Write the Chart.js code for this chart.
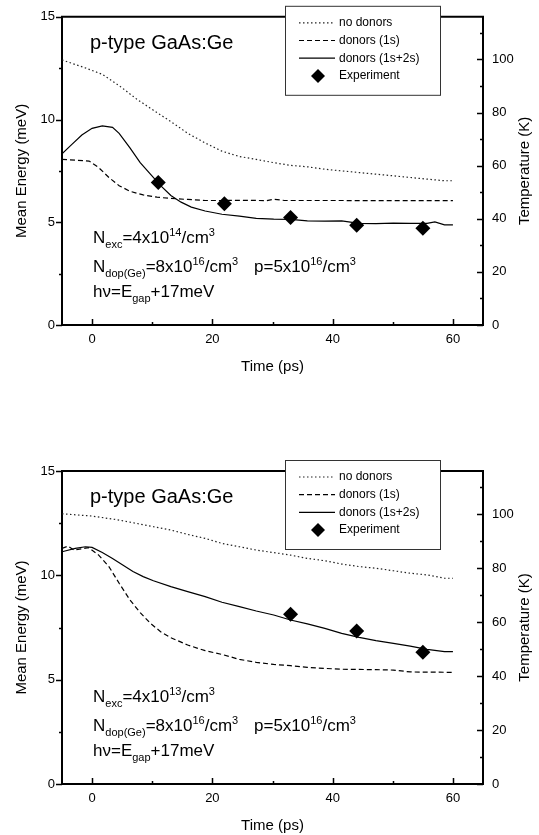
<!DOCTYPE html>
<html><head><meta charset="utf-8">
<script src="https://cdn.jsdelivr.net/npm/chart.js@4/dist/chart.umd.min.js"></script>
<style>
html,body{margin:0;padding:0;background:#fff;width:539px;height:835px;overflow:hidden}
.panel{position:absolute;left:0;width:539px}
#p1{top:0;height:400px}
#p2{top:400px;height:435px}
</style></head><body>
<div class="panel" id="p1"><canvas id="c1"></canvas></div>
<div class="panel" id="p2"><canvas id="c2"></canvas></div>
<script>
// ---------- DATA ----------
// Top panel (N_exc = 4x10^14 /cm^3)
const topNoDonorsT   = [-5,-1,1.7,4.5,7.4,10.2,13.1,15.9,18.8,21.6,24.5,27.3,30.2,33,35.8,38.7,41.5,44.4,47.2,50.1,52.9,55.7,58.6,60];
const topNoDonorsE   = [12.9,12.5,12.2,11.65,11.0,10.45,9.9,9.33,8.86,8.46,8.2,8.06,7.9,7.77,7.7,7.58,7.5,7.42,7.34,7.26,7.18,7.1,7.02,7.02];
const topDonors1sT   = [-5,-0.5,1.1,2.8,4.5,6.3,8.5,10.8,13.1,15.9,18.8,22,26,29,30.2,32,40,50,60];
const topDonors1sE   = [8.06,7.98,7.66,7.18,6.78,6.51,6.33,6.22,6.16,6.11,6.06,6.06,6.07,6.05,6.12,6.06,6.06,6.05,6.05];
const topDonors12sT  = [-5,-3.4,-1.7,0,1.7,3.4,4.5,6.3,8,9.7,11.4,13.1,14.8,16.5,18.8,21.6,24.5,27.3,30.2,33,35.8,38.7,41.5,44.4,47.2,50.1,52.9,55.7,57,58.6,60];
const topDonors12sE  = [8.33,8.78,9.25,9.57,9.69,9.62,9.33,8.62,7.9,7.34,6.78,6.30,5.98,5.74,5.55,5.39,5.30,5.19,5.15,5.14,5.07,5.06,5.07,4.95,4.93,4.96,4.95,4.95,5.02,4.87,4.87];
const topExpT        = [11,22,33,44,55];
const topExpE        = [6.94,5.9,5.23,4.85,4.71];

// Bottom panel (N_exc = 4x10^13 /cm^3)
const botNoDonorsT   = [-5,0,4.5,7.4,10.2,13.1,15.9,18.8,21.6,24.5,27.3,30.2,33,35.8,38.7,41.5,44.4,47.2,50.1,52.9,55.7,58.6,60];
const botNoDonorsE   = [12.95,12.84,12.65,12.49,12.33,12.17,11.96,11.77,11.53,11.37,11.21,11.09,10.97,10.81,10.7,10.54,10.42,10.34,10.22,10.1,10.02,9.86,9.86];
const botDonors1sT   = [-5,-4,-3,-0.6,1.1,2.8,4.5,6.3,8,9.7,11.4,13.1,15.9,18.8,21.6,24.5,27.3,30.2,33,35.8,38.7,41.5,47.2,50.1,52.9,60];
const botDonors1sE   = [11.29,11.4,11.21,11.33,10.97,10.42,9.62,8.82,8.21,7.7,7.3,7.01,6.66,6.39,6.21,5.97,5.83,5.73,5.67,5.59,5.54,5.5,5.48,5.46,5.37,5.35];
const botDonors12sT  = [-5,-2.8,-1.1,0,1.7,3.4,5.1,6.8,8.5,10.2,13.1,15.9,18.8,21.6,24.5,27.3,30.2,33,35.8,38.7,41.5,44.4,47.2,50.1,52.9,55.7,58.6,60];
const botDonors12sE  = [11.13,11.29,11.37,11.34,11.09,10.81,10.5,10.18,9.94,9.74,9.46,9.22,8.98,8.71,8.5,8.29,8.1,7.86,7.67,7.46,7.22,7.03,6.87,6.74,6.61,6.45,6.34,6.34];
const botExpT        = [33,44,55];
const botExpE        = [8.13,7.33,6.31];

// Series labels
const seriesLabels = ['no donors','donors (1s)','donors (1s+2s)','Experiment'];

// Axes / ticks
const xMin = -5, xMax = 65;
const xTickValues  = [0,10,20,30,40,50,60];
const xLabelValues = [0,20,40,60];
const eMin = 0, eMax = 15;
const eTickValues  = [0,2.5,5,7.5,10,12.5,15];
const eLabelValues = [0,5,10,15];
const kB = 0.08617; // meV/K, E = 3/2 kT
const tMax = eMax / (1.5 * kB);
const tTickValues  = [0,10,20,30,40,50,60,70,80,90,100,110];
const tLabelValues = [0,20,40,60,80,100];

const titleText = 'p-type GaAs:Ge';
const topNexc = [['N',''],['exc','sub'],['=4x10',''],['14','sup'],['/cm',''],['3','sup']];
const botNexc = [['N',''],['exc','sub'],['=4x10',''],['13','sup'],['/cm',''],['3','sup']];
const ndopLine = [['N',''],['dop(Ge)','sub'],['=8x10',''],['16','sup'],['/cm',''],['3','sup']];
const pLine = [['p=5x10',''],['16','sup'],['/cm',''],['3','sup']];
const hvLine = [['h\u03BD=E',''],['gap','sub'],['+17meV','']];

// ---------- helpers ----------
const FONT = "'Liberation Sans', Arial, Helvetica, sans-serif";
const pts = (T,E) => T.map((t,i)=>({x:t,y:E[i]}));

function drawRich(ctx, segs, x, y, size){
  const small = Math.round(size*0.65);
  for (const [t,kind] of segs){
    let dy = 0, fs = size;
    if (kind==='sub'){ fs = small; dy = size*0.28; }
    if (kind==='sup'){ fs = small; dy = -size*0.42; }
    ctx.font = fs + 'px ' + FONT;
    ctx.fillText(t, x, y+dy);
    x += ctx.measureText(t).width;
  }
}

const decorPlugin = {
  id:'decor',
  afterDraw(chart){
    const ctx = chart.ctx, a = chart.chartArea;
    const sx = chart.scales.x, sy = chart.scales.y, st = chart.scales.y2;
    const nexc = chart.options.plugins.decor.nexc;
    ctx.save();
    ctx.strokeStyle = '#000'; ctx.fillStyle = '#000';
    // top frame
    ctx.lineWidth = 2;
    ctx.beginPath(); ctx.moveTo(a.left-1, a.top); ctx.lineTo(a.right+1, a.top); ctx.stroke();
    // ticks
    ctx.lineWidth = 1.5;
    ctx.beginPath();
    for (const v of xTickValues){
      const px = Math.round(sx.getPixelForValue(v))+0.5;
      const L = xLabelValues.includes(v) ? 6 : 3;
      ctx.moveTo(px, a.bottom); ctx.lineTo(px, a.bottom - L);
    }
    for (const v of eTickValues){
      const py = Math.round(sy.getPixelForValue(v))+0.5;
      const L = eLabelValues.includes(v) ? 6 : 3;
      ctx.moveTo(a.left, py); ctx.lineTo(a.left - L, py);
    }
    for (const v of tTickValues){
      const py = Math.round(st.getPixelForValue(v))+0.5;
      const L = tLabelValues.includes(v) ? 6 : 3;
      ctx.moveTo(a.right, py); ctx.lineTo(a.right - L, py);
    }
    ctx.stroke();
    // right axis title (reads bottom to top)
    ctx.save();
    ctx.translate(525, (a.top+a.bottom)/2);
    ctx.rotate(-Math.PI/2);
    ctx.font = '15px ' + FONT; ctx.textAlign = 'center'; ctx.textBaseline = 'middle';
    ctx.fillText('Temperature (K)', 0, 0);
    ctx.restore();
    // annotations
    ctx.textAlign = 'left'; ctx.textBaseline = 'alphabetic';
    ctx.font = '20px ' + FONT;
    ctx.fillText(titleText, a.left + 28, a.top + 32);
    drawRich(ctx, nexc, a.left + 31, a.bottom - 82, 17);
    drawRich(ctx, ndopLine, a.left + 31, a.bottom - 53, 17);
    drawRich(ctx, pLine, a.left + 192, a.bottom - 53, 17);
    drawRich(ctx, hvLine, a.left + 31, a.bottom - 28, 17);
    // legend box
    const bx = 285, bw = 155, by = a.top - 11, bh = 89;
    ctx.fillStyle = '#fff'; ctx.fillRect(bx, by, bw, bh);
    ctx.strokeStyle = '#333'; ctx.lineWidth = 1;
    ctx.strokeRect(bx+0.5, by+0.5, bw, bh);
    ctx.font = '12px ' + FONT; ctx.textBaseline = 'middle';
    chart.data.datasets.forEach((ds,i)=>{
      const yy = by + 17 + i*17.7;
      ctx.strokeStyle = ds.borderColor; ctx.fillStyle = '#000';
      if (ds.showLine === false){
        ctx.beginPath();
        ctx.moveTo(318, yy-7); ctx.lineTo(325, yy); ctx.lineTo(318, yy+7); ctx.lineTo(311, yy); ctx.closePath();
        ctx.fill();
      } else {
        ctx.lineWidth = ds.borderWidth; ctx.setLineDash(ds.borderDash || []);
        ctx.beginPath(); ctx.moveTo(299, yy); ctx.lineTo(335, yy); ctx.stroke();
        ctx.setLineDash([]);
      }
      ctx.fillStyle = '#000';
      ctx.fillText(ds.label, 339, yy);
    });
    ctx.restore();
  }
};

function makeChart(canvasId, H, plotTop, plotBottom, xTitlePad, series, nexc){
  const tickFont = {family: FONT, size: 13};
  return new Chart(document.getElementById(canvasId), {
    type:'scatter',
    data:{ datasets:[
      {label:seriesLabels[0], data:pts(series[0][0],series[0][1]), showLine:true, borderColor:'#222', borderWidth:1.2, borderDash:[1.5,2.5], pointRadius:0, fill:false},
      {label:seriesLabels[1], data:pts(series[1][0],series[1][1]), showLine:true, borderColor:'#000', borderWidth:1.2, borderDash:[5,3], pointRadius:0, fill:false},
      {label:seriesLabels[2], data:pts(series[2][0],series[2][1]), showLine:true, borderColor:'#000', borderWidth:1.2, pointRadius:0, fill:false},
      {label:seriesLabels[3], data:pts(series[3][0],series[3][1]), showLine:false, pointStyle:'rectRot', pointRadius:7.5, backgroundColor:'#000', borderColor:'#000', borderWidth:0}
    ]},
    options:{
      responsive:true, maintainAspectRatio:false, animation:false, devicePixelRatio:1,
      layout:{padding:{top:plotTop, left:0, right:0, bottom:0}},
      plugins:{ legend:{display:false}, tooltip:{enabled:false}, decor:{nexc:nexc} },
      scales:{
        x:{ type:'linear', position:'bottom', min:xMin, max:xMax,
            afterBuildTicks: s => { s.ticks = xTickValues.map(v=>({value:v})); },
            afterFit: s => { s.height = H - plotBottom; },
            ticks:{ autoSkip:false, maxRotation:0, padding:7, color:'#000', font:tickFont,
                    callback: v => xLabelValues.includes(v) ? String(v) : '' },
            grid:{display:false, drawTicks:false},
            border:{display:true, color:'#000', width:2},
            title:{display:true, text:'Time (ps)', color:'#000', font:{family:FONT, size:15}, padding:{top:0, bottom:xTitlePad}} },
        y:{ type:'linear', position:'left', min:eMin, max:eMax,
            afterBuildTicks: s => { s.ticks = eTickValues.map(v=>({value:v})); },
            afterFit: s => { s.width = 62; },
            ticks:{ autoSkip:false, padding:7, color:'#000', font:tickFont,
                    callback: v => eLabelValues.includes(v) ? String(v) : '' },
            grid:{display:false, drawTicks:false},
            border:{display:true, color:'#000', width:2},
            title:{display:true, text:'Mean Energy (meV)', color:'#000', font:{family:FONT, size:15}, padding:{top:13, bottom:0}} },
        y2:{ type:'linear', position:'right', min:0, max:tMax, display:true,
            afterBuildTicks: s => { s.ticks = tTickValues.map(v=>({value:v})); },
            afterFit: s => { s.width = 56; },
            ticks:{ autoSkip:false, padding:9, color:'#000', font:tickFont,
                    callback: v => tLabelValues.includes(v) ? String(v) : '' },
            grid:{display:false, drawTicks:false},
            border:{display:true, color:'#000', width:2} }
      }
    },
    plugins:[decorPlugin]
  });
}

makeChart('c1', 400, 14, 325, 24,
  [[topNoDonorsT,topNoDonorsE],[topDonors1sT,topDonors1sE],[topDonors12sT,topDonors12sE],[topExpT,topExpE]], topNexc);
makeChart('c2', 435, 71, 384, 0,
  [[botNoDonorsT,botNoDonorsE],[botDonors1sT,botDonors1sE],[botDonors12sT,botDonors12sE],[botExpT,botExpE]], botNexc);
</script>
</body></html>
